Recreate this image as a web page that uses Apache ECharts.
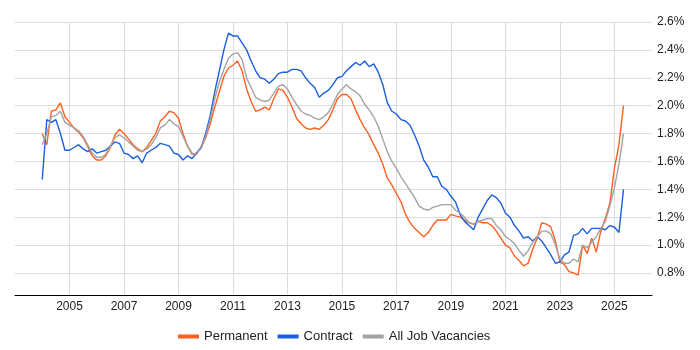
<!DOCTYPE html>
<html>
<head>
<meta charset="utf-8">
<script src="https://cdn.jsdelivr.net/npm/echarts@6/dist/echarts.min.js"></script>
<style>
  html, body { margin: 0; padding: 0; background: #fff; }
  #chart { width: 700px; height: 350px; }
</style>
</head>
<body>
<div id="chart"></div>
<script>
// one value every two months, Jan 2004 .. May 2025
const startYear = 2004
const stepMonths = 2

const permanent = [
  1.80, 1.72, 1.96, 1.97, 2.02, 1.92,
  1.88, 1.84, 1.81, 1.77, 1.71, 1.64,
  1.61, 1.61, 1.64, 1.70, 1.79, 1.83,
  1.80, 1.76, 1.72, 1.69, 1.67, 1.70,
  1.75, 1.80, 1.89, 1.92, 1.96, 1.95,
  1.91, 1.80, 1.71, 1.65, 1.66, 1.70,
  1.77, 1.87, 1.99, 2.10, 2.21, 2.27,
  2.29, 2.32, 2.25, 2.12, 2.03, 1.96,
  1.97, 1.99, 1.97, 2.05, 2.12, 2.11,
  2.06, 1.99, 1.91, 1.87, 1.84, 1.83,
  1.84, 1.83, 1.86, 1.90, 1.97, 2.05,
  2.08, 2.08, 2.05, 1.97, 1.90, 1.84,
  1.79, 1.72, 1.66, 1.58, 1.48, 1.43,
  1.37, 1.31, 1.22, 1.16, 1.12, 1.09,
  1.06, 1.09, 1.14, 1.18, 1.18, 1.18,
  1.22, 1.21, 1.20, 1.18, 1.16, 1.15,
  1.17, 1.16, 1.16, 1.14, 1.10, 1.05,
  1.00, 0.98, 0.92, 0.89, 0.85, 0.87,
  0.97, 1.05, 1.16, 1.15, 1.13, 1.03,
  0.88, 0.86, 0.81, 0.80, 0.785, 1.00,
  0.94, 1.05, 0.95, 1.10, 1.19, 1.30,
  1.55, 1.72, 2.00
]

const contract = [
  1.47, 1.90, 1.88, 1.90, 1.80, 1.68,
  1.68, 1.70, 1.72, 1.69, 1.67, 1.69,
  1.66, 1.67, 1.68, 1.71, 1.74, 1.73,
  1.66, 1.65, 1.62, 1.64, 1.59, 1.66,
  1.68, 1.70, 1.73, 1.72, 1.71, 1.66,
  1.65, 1.61, 1.64, 1.62, 1.66, 1.70,
  1.80, 1.93, 2.10, 2.25, 2.40, 2.52,
  2.50, 2.50, 2.45, 2.40, 2.32, 2.25,
  2.20, 2.19, 2.16, 2.19, 2.23, 2.24,
  2.24, 2.26, 2.26, 2.25, 2.20, 2.16,
  2.13, 2.06, 2.09, 2.11, 2.15, 2.20,
  2.21, 2.25, 2.28, 2.31, 2.29, 2.32,
  2.28, 2.30, 2.24, 2.15, 2.02, 1.96,
  1.94, 1.90, 1.89, 1.86, 1.79, 1.71,
  1.61, 1.56, 1.49, 1.49, 1.42, 1.40,
  1.35, 1.31, 1.22, 1.17, 1.14, 1.11,
  1.20, 1.26, 1.32, 1.36, 1.34, 1.30,
  1.23, 1.20, 1.14, 1.10, 1.05, 1.06,
  1.03, 1.06, 1.03, 0.98, 0.93, 0.87,
  0.88, 0.93, 0.95, 1.07, 1.08, 1.12,
  1.08, 1.12, 1.12, 1.12, 1.11, 1.14,
  1.13, 1.09, 1.40
]

const allJobs = [
  1.72, 1.80, 1.92, 1.93, 1.96, 1.88,
  1.86, 1.84, 1.82, 1.78, 1.72, 1.66,
  1.63, 1.63, 1.65, 1.71, 1.77, 1.79,
  1.77, 1.74, 1.71, 1.68, 1.67, 1.69,
  1.72, 1.77, 1.84, 1.86, 1.90, 1.87,
  1.85, 1.78, 1.71, 1.66, 1.65, 1.71,
  1.78, 1.90, 2.05, 2.17, 2.26, 2.34,
  2.37, 2.38, 2.33, 2.20, 2.13, 2.06,
  2.04, 2.03, 2.04, 2.09, 2.14, 2.15,
  2.12, 2.06, 2.01, 1.96, 1.94, 1.93,
  1.91, 1.90, 1.92, 1.95, 2.01, 2.08,
  2.12, 2.15, 2.12, 2.10, 2.07, 2.01,
  1.97, 1.92, 1.85, 1.76, 1.67, 1.60,
  1.55, 1.49, 1.44, 1.39, 1.34, 1.28,
  1.26, 1.25, 1.27, 1.28, 1.29, 1.29,
  1.29, 1.25, 1.23, 1.20, 1.16, 1.15,
  1.17, 1.18, 1.19, 1.19, 1.14, 1.11,
  1.06, 1.04, 1.01, 0.96, 0.92, 0.96,
  1.02, 1.06, 1.10, 1.10, 1.08, 1.00,
  0.90, 0.87, 0.87, 0.90, 0.88, 1.00,
  0.98, 1.02, 1.06, 1.12, 1.17, 1.28,
  1.41, 1.58, 1.80
]

// x axis runs from Jan 2003, values are years after that
const axisStartYear = 2003
const axisEndYear = 2026.38

const toPoints = arr => arr.map((v, i) => [startYear + (i * stepMonths) / 12 - axisStartYear, v])

const chart = echarts.init(document.getElementById('chart'))

const option = {
  animation: false,
  grid: { left: 15, right: 48, top: 22, bottom: 55 },
  legend: {
    left: 173,
    bottom: 2,
    icon: 'rect',
    itemWidth: 21,
    itemHeight: 4,
    itemGap: 10,
    textStyle: { fontSize: 13, color: '#222', fontFamily: 'Liberation Sans, Arial, sans-serif' },
    data: ['Permanent', 'Contract', 'All Job Vacancies']
  },
  xAxis: {
    type: 'value',
    min: 0,
    max: axisEndYear - axisStartYear,
    interval: 2,
    axisLine: { lineStyle: { color: '#000', width: 1 } },
    axisTick: { show: false },
    axisLabel: {
      showMinLabel: false,
      showMaxLabel: false,
      color: '#222',
      fontSize: 12,
      margin: 6,
      fontFamily: 'Liberation Sans, Arial, sans-serif',
      formatter: v => String(Math.round(v + axisStartYear))
    },
    splitLine: { show: true, showMinLine: false, showMaxLine: false, lineStyle: { color: '#dcdcdc', width: 1 } }
  },
  yAxis: {
    type: 'value',
    position: 'right',
    min: 0.642,
    max: 2.6,
    splitNumber: 10,
    minInterval: 0.2,
    maxInterval: 0.2,
    axisLine: { show: false },
    axisTick: { show: false },
    axisLabel: {
      showMinLabel: false,
      color: '#222',
      fontSize: 12,
      margin: 5,
      fontFamily: 'Liberation Sans, Arial, sans-serif',
      formatter: v => v.toFixed(1) + '%'
    },
    splitLine: { show: true, showMinLine: false, lineStyle: { color: '#dcdcdc', width: 1 } }
  },
  series: [
    {
      name: 'Permanent',
      type: 'line',
      data: toPoints(permanent),
      showSymbol: false,
      lineStyle: { color: '#ff5f1f', width: 1.4 },
      itemStyle: { color: '#ff5f1f' }
    },
    {
      name: 'Contract',
      type: 'line',
      data: toPoints(contract),
      showSymbol: false,
      lineStyle: { color: '#1a5fdc', width: 1.4 },
      itemStyle: { color: '#1a5fdc' }
    },
    {
      name: 'All Job Vacancies',
      type: 'line',
      data: toPoints(allJobs),
      showSymbol: false,
      lineStyle: { color: '#a3a3a3', width: 1.4 },
      itemStyle: { color: '#a3a3a3' }
    }
  ]
}

chart.setOption(option)
window.addEventListener('resize', () => chart.resize())
</script>
</body>
</html>
